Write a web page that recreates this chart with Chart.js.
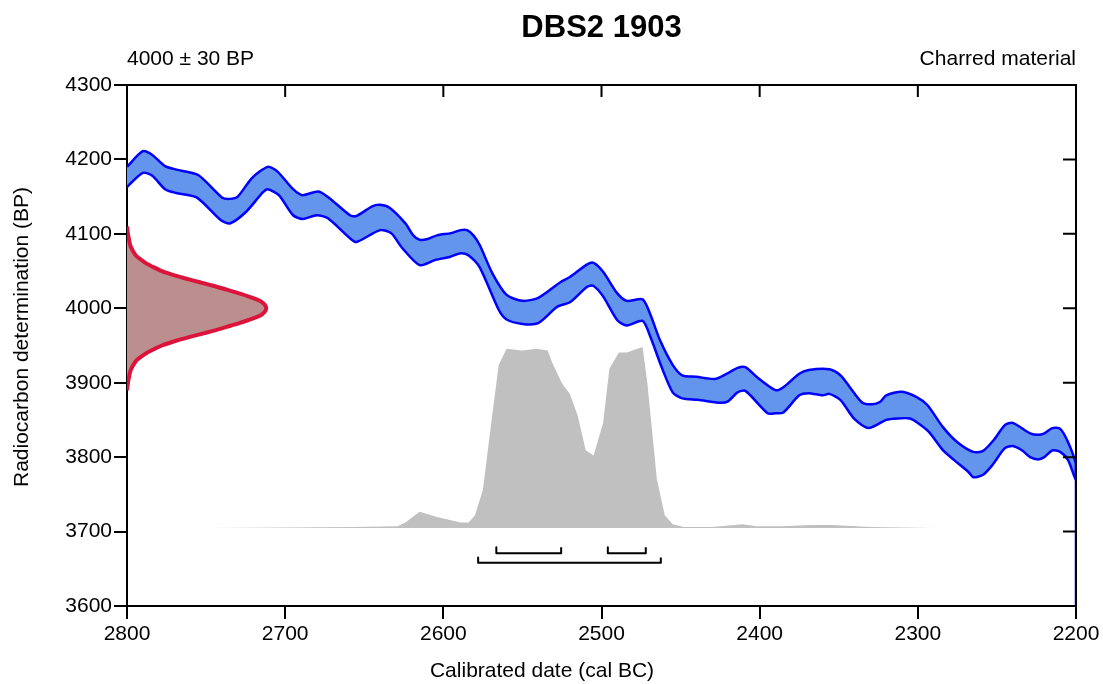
<!DOCTYPE html>
<html>
<head>
<meta charset="utf-8">
<title>DBS2 1903</title>
<script src="https://cdn.jsdelivr.net/npm/chart.js@4.4.1/dist/chart.umd.min.js"></script>
<style>
  body { margin: 0; background: #fff; }
  #wrap { width: 1103px; height: 684px; }
</style>
</head>
<body>
<div id="wrap"><canvas id="calib" width="1103" height="684"></canvas></div>
<script>
// calibration curve, upper edge (cal BC, BP)
calUpperYears = [2800, 2790, 2784, 2776, 2768, 2755, 2740, 2735, 2730, 2721, 2711, 2705, 2695, 2689, 2679, 2672,
    2659, 2655, 2645, 2640, 2634, 2624, 2619, 2615, 2610, 2604, 2595, 2589, 2585, 2581, 2577, 2569, 2560, 2550,
    2540, 2526, 2520, 2509, 2505, 2499, 2490, 2484, 2474, 2469, 2463, 2455, 2449, 2440, 2428, 2420, 2414, 2409,
    2402, 2390, 2385, 2375, 2369, 2356, 2349, 2343, 2335, 2329, 2324, 2320, 2310, 2301, 2294, 2284, 2275, 2265,
    2259, 2252, 2245, 2240, 2229, 2224, 2220, 2215, 2210, 2205, 2200];
calUpperBP = [4190, 4211, 4206, 4191, 4186, 4179, 4149, 4147, 4150, 4175, 4190, 4184, 4160, 4152, 4157, 4148,
    4125, 4124, 4137, 4139, 4135, 4114, 4098, 4092, 4093, 4098, 4101, 4105, 4105, 4098, 4085, 4047, 4018, 4010,
    4014, 4035, 4042, 4059, 4061, 4049, 4020, 4010, 4012, 3991, 3957, 3924, 3910, 3908, 3905, 3913, 3920, 3921,
    3908, 3890, 3894, 3912, 3917, 3918, 3910, 3894, 3873, 3871, 3874, 3883, 3888, 3881, 3870, 3840, 3820, 3807,
    3808, 3823, 3843, 3846, 3832, 3830, 3832, 3839, 3838, 3820, 3790];

// calibration curve, lower edge
calLowerYears = [2800, 2790, 2784, 2776, 2769, 2756, 2741, 2735, 2725, 2714, 2711, 2704, 2695, 2689, 2680, 2673,
    2659, 2655, 2640, 2633, 2626, 2615, 2605, 2596, 2589, 2584, 2577, 2565, 2560, 2550, 2540, 2528, 2520, 2509,
    2505, 2499, 2490, 2484, 2474, 2469, 2462, 2455, 2449, 2439, 2425, 2420, 2414, 2409, 2395, 2390, 2385, 2375,
    2369, 2360, 2356, 2349, 2340, 2331, 2320, 2313, 2305, 2300, 2293, 2284, 2277, 2268, 2265, 2259, 2253, 2245,
    2240, 2234, 2229, 2224, 2220, 2215, 2210, 2205, 2200];
calLowerBP = [4163, 4182, 4178, 4160, 4155, 4149, 4119, 4114, 4129, 4156, 4160, 4152, 4125, 4120, 4125, 4121,
    4094, 4089, 4105, 4101, 4081, 4058, 4065, 4069, 4074, 4071, 4055, 3998, 3985, 3979, 3980, 4002, 4008, 4029,
    4030, 4016, 3984, 3977, 3983, 3961, 3921, 3887, 3879, 3877, 3873, 3875, 3887, 3889, 3859, 3859, 3860, 3883,
    3886, 3883, 3885, 3877, 3851, 3839, 3850, 3852, 3852, 3846, 3834, 3809, 3796, 3780, 3773, 3776, 3789, 3812,
    3815, 3809, 3800, 3797, 3800, 3809, 3807, 3796, 3769];

// curve runs off the bottom at the right edge
calTailYears = [2200, 2200];
calTailBP = [3790, 3590];

// radiocarbon measurement 4000 +- 30 BP, width in years off the left axis
dateBP = [3890, 3900, 3910, 3915, 3920, 3925, 3930, 3935, 3940, 3945, 3950, 3955, 3960, 3965, 3970, 3975,
    3980, 3985, 3990, 3995, 4000, 4005, 4010, 4015, 4020, 4025, 4030, 4035, 4040, 4045, 4050, 4055, 4060,
    4065, 4070, 4075, 4080, 4085, 4090, 4100, 4110];
dateWidth = [0, 0.6, 1.5, 2, 3, 4.3, 6, 9, 12.4, 17, 22, 29, 37, 46, 55, 63,
    71, 78, 84, 87, 88, 87, 84, 78, 71, 63, 55, 46, 37, 29, 22, 17, 12.4,
    9, 6, 4.3, 3, 2, 1.5, 0.6, 0];

// calibrated probability (relative, peak = 100)
probYears = [2748, 2700, 2657, 2629, 2624, 2615, 2604, 2589, 2584, 2580, 2575, 2569, 2565, 2560, 2550, 2541,
    2534, 2531, 2525, 2520, 2515, 2510, 2505, 2499, 2495, 2489, 2484, 2474, 2471, 2465, 2460, 2455, 2448,
    2430, 2411, 2402, 2385, 2368, 2354, 2330, 2290];
probValues = [0, 0.3, 0.6, 1, 3, 9, 6, 3, 3, 7, 21, 63, 90, 99, 98, 99,
    98, 91, 80, 74, 62, 43, 40, 58, 88, 97, 97, 100, 80, 27, 7, 2, 0.5,
    0.5, 2, 1, 1, 1.6, 1.6, 0.5, 0];

// ranges (68.2% two brackets, 95.4% one)
rangeFrom = [2566.5, 2496, 2578];
rangeTo = [2525.5, 2472, 2462.5];
rangeTopBP = [3679, 3679, 3665];
rangeBotBP = [3671, 3671, 3658];

FONT = '"Liberation Sans", Arial, sans-serif';

band = [];
for (i = 0; i < calUpperYears.length; i++) band.push({ x: calUpperYears[i], y: calUpperBP[i] });
for (i = calLowerYears.length - 1; i >= 0; i--) band.push({ x: calLowerYears[i], y: calLowerBP[i] });

tail = calTailYears.map((yr, i) => ({ x: yr, y: calTailBP[i] }));
gauss = dateBP.map((bp, i) => ({ x: 2800 - dateWidth[i], y: bp }));
prob = probYears.map((yr, i) => ({ x: yr, y: probValues[i] }));

datasets = [
    {
        label: 'prob', data: prob, yAxisID: 'yProb', order: 4,
        borderWidth: 0, borderColor: 'rgba(0,0,0,0)', backgroundColor: '#c0c0c0', fill: 'origin'
    },
    {
        label: 'curve', data: band, yAxisID: 'y', order: 3, tension: 0.25,
        borderWidth: 2.5, borderColor: '#0000ff', backgroundColor: '#6495ed', fill: 'shape'
    },
    {
        label: 'tail', data: tail, yAxisID: 'y', order: 2,
        borderWidth: 2.5, borderColor: '#0000ff', fill: false
    },
    {
        label: 'date', data: gauss, yAxisID: 'y', order: 1, tension: 0.2,
        borderWidth: 4, borderColor: '#dc143c', backgroundColor: '#bc8f8f', fill: 'shape'
    }
];

for (i = 0; i < rangeFrom.length; i++) {
    datasets.push({
        label: 'range' + i, yAxisID: 'y', order: 0,
        data: [
            { x: rangeFrom[i], y: rangeTopBP[i] },
            { x: rangeFrom[i], y: rangeBotBP[i] },
            { x: rangeTo[i], y: rangeBotBP[i] },
            { x: rangeTo[i], y: rangeTopBP[i] }
        ],
        borderWidth: 2, borderColor: '#000', fill: false
    });
}

framePlugin = {
    id: 'frame',
    afterDraw(chart) {
        const ctx = chart.ctx;
        const a = chart.chartArea;
        const xs = chart.scales.x;
        const ys = chart.scales.y;
        ctx.save();
        ctx.strokeStyle = '#000';
        ctx.lineWidth = 2;
        ctx.beginPath();
        ctx.moveTo(a.left, a.top);
        ctx.lineTo(a.right, a.top);
        ctx.lineTo(a.right, a.bottom);
        ctx.stroke();
        // inner ticks on top and right
        ctx.beginPath();
        for (v = 2800; v >= 2200; v -= 100) {
            px = xs.getPixelForValue(v);
            ctx.moveTo(px, a.top);
            ctx.lineTo(px, a.top + 12);
        }
        for (v = 3600; v <= 4300; v += 100) {
            py = ys.getPixelForValue(v);
            ctx.moveTo(a.right, py);
            ctx.lineTo(a.right - 13, py);
        }
        ctx.stroke();

        ctx.fillStyle = '#000';
        ctx.textAlign = 'center';
        ctx.textBaseline = 'alphabetic';
        ctx.font = 'bold 31px ' + FONT;
        ctx.fillText('DBS2 1903', (a.left + a.right) / 2, 37);

        ctx.font = '21px ' + FONT;
        ctx.textAlign = 'left';
        ctx.fillText('4000 \u00b1 30 BP', a.left, 65);
        ctx.textAlign = 'right';
        ctx.fillText('Charred material', a.right, 65);

        ctx.textAlign = 'center';
        ctx.fillText('Calibrated date (cal BC)', 542, 677);

        ctx.translate(28, 337);
        ctx.rotate(-Math.PI / 2);
        ctx.fillText('Radiocarbon determination (BP)', 0, 0);
        ctx.restore();
    }
};

new Chart(document.getElementById('calib'), {
    type: 'line',
    data: { datasets: datasets },
    options: {
        responsive: false,
        animation: false,
        events: [],
        layout: { padding: { top: 85, right: 27, left: 0, bottom: 0 } },
        elements: { point: { radius: 0 }, line: { tension: 0, borderJoinStyle: 'round' } },
        plugins: { legend: { display: false }, tooltip: { enabled: false }, title: { display: false } },
        scales: {
            x: {
                type: 'linear', position: 'bottom', reverse: true, min: 2200, max: 2800,
                ticks: {
                    stepSize: 100, color: '#000', padding: 3,
                    font: { family: FONT, size: 21 },
                    callback: v => String(v)
                },
                grid: { drawOnChartArea: false, tickLength: 13, color: '#000', lineWidth: 2 },
                border: { color: '#000', width: 2 },
                afterFit: (s) => { s.height = 78; }
            },
            y: {
                type: 'linear', position: 'left', min: 3600, max: 4300,
                ticks: {
                    stepSize: 100, color: '#000', padding: 2,
                    font: { family: FONT, size: 21 },
                    callback: v => String(v)
                },
                grid: { drawOnChartArea: false, tickLength: 13, color: '#000', lineWidth: 2 },
                border: { color: '#000', width: 2 },
                afterFit: (s) => { s.width = 127; }
            },
            yProb: { type: 'linear', display: false, min: -43.1, max: 244.7 }
        }
    },
    plugins: [framePlugin]
});
</script>
</body>
</html>
